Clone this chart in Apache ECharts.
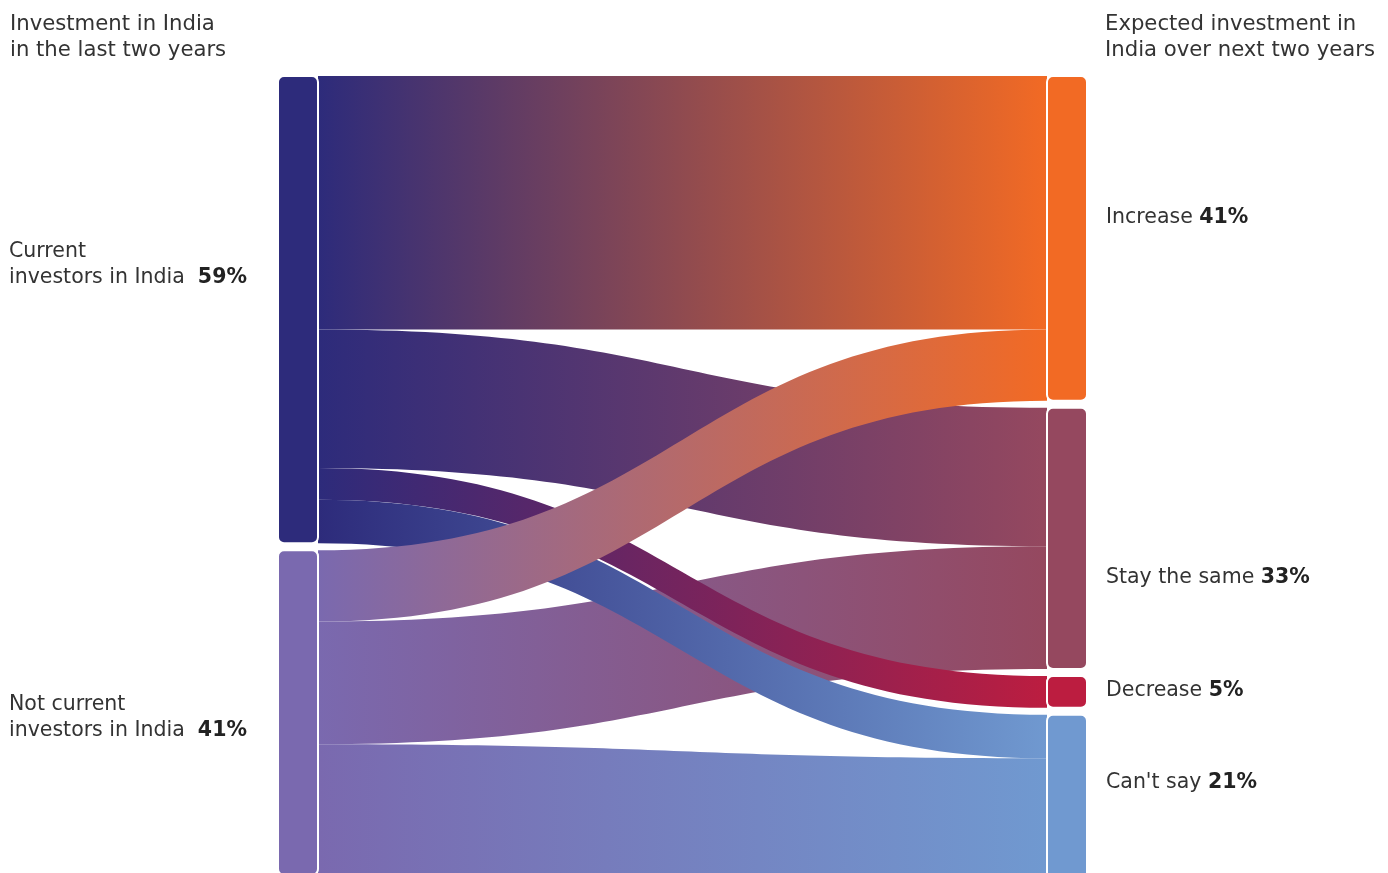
<!DOCTYPE html>
<html>
<head>
<meta charset="utf-8">
<script src="https://cdn.jsdelivr.net/npm/echarts@6/dist/echarts.min.js"></script>
<style>
  html, body { margin: 0; padding: 0; background: #fff; }
  #chart { width: 1388px; height: 873px; }
</style>
</head>
<body>
<div id="chart"></div>
<script>
// ---- data ----
const sources = ['Current investors in India', 'Not current investors in India'];
const sourceLines = [['Current', 'investors in India'], ['Not current', 'investors in India']];
const sourceShare = ['59%', '41%'];
const targets = ['Increase', 'Stay the same', 'Decrease', "Can't say"];
const targetShare = ['41%', '33%', '5%', '21%'];
// flows in % of respondents (listed in drawing order)
const flowFrom = ['Current investors in India', 'Not current investors in India', 'Current investors in India', 'Not current investors in India', 'Current investors in India', 'Current investors in India', 'Not current investors in India'];
const flowTo = ['Stay the same', 'Stay the same', 'Decrease', "Can't say", "Can't say", 'Increase', 'Increase'];
const flowValue = [17.5, 15.5, 4, 16.5, 5.5, 32, 9];
const titleLeft = 'Investment in India\nin the last two years';
const titleRight = 'Expected investment in\nIndia over next two years';

// ---- styles ----
const FONT = 'DejaVu Sans';
const FS = 20.5;
const TFS = 21.2;
const sourceColors = ['#2D2B7B', '#7A69AF'];
const targetColors = ['#F26A24', '#95485F', '#BC1D40', '#7099D0'];
const sourceLabelDy = [-45, 5];
const targetLabelDy = [-21, 39, -1, -19];

const nodes = [];
sources.forEach((s, i) => {
  nodes.push({
    name: s,
    itemStyle: { color: sourceColors[i] },
    label: {
      position: [-268, '50%'],
      align: 'left',
      verticalAlign: 'middle',
      offset: [0, sourceLabelDy[i]],
      formatter: sourceLines[i][0] + '\n' + sourceLines[i][1] + '  {p|' + sourceShare[i] + '}'
    }
  });
});
targets.forEach((t, i) => {
  nodes.push({
    name: t,
    itemStyle: { color: targetColors[i] },
    label: {
      offset: [0, targetLabelDy[i]],
      formatter: t + ' {p|' + targetShare[i] + '}'
    }
  });
});
const links = flowValue.map((v, i) => ({ source: flowFrom[i], target: flowTo[i], value: v }));

const chart = echarts.init(document.getElementById('chart'), null, { renderer: 'canvas' });
chart.setOption({
  animation: false,
  backgroundColor: '#fff',
  title: [
    { text: titleLeft, left: 10, top: 11, padding: 0,
      textStyle: { fontFamily: FONT, fontSize: TFS, fontWeight: 'normal', color: '#333', lineHeight: 26 } },
    { text: titleRight, left: 1105, top: 11, padding: 0,
      textStyle: { fontFamily: FONT, fontSize: TFS, fontWeight: 'normal', color: '#333', lineHeight: 26 } }
  ],
  series: [{
    type: 'sankey',
    left: 278, right: 301, top: 76, bottom: -16,
    nodeWidth: 40,
    nodeGap: 7,
    nodeAlign: 'justify',
    layoutIterations: 0,
    draggable: false,
    emphasis: { disabled: true },
    data: nodes,
    links: links,
    itemStyle: { borderColor: '#fff', borderWidth: 2, borderRadius: 6 },
    lineStyle: { color: 'gradient', opacity: 1, curveness: 0.5 },
    label: {
      position: 'right',
      distance: 18,
      fontFamily: FONT,
      fontSize: FS,
      color: '#333',
      lineHeight: 26,
      rich: { p: { fontFamily: FONT, fontSize: FS, fontWeight: 'bold', color: '#222', lineHeight: 26 } }
    }
  }]
});
</script>
</body>
</html>
